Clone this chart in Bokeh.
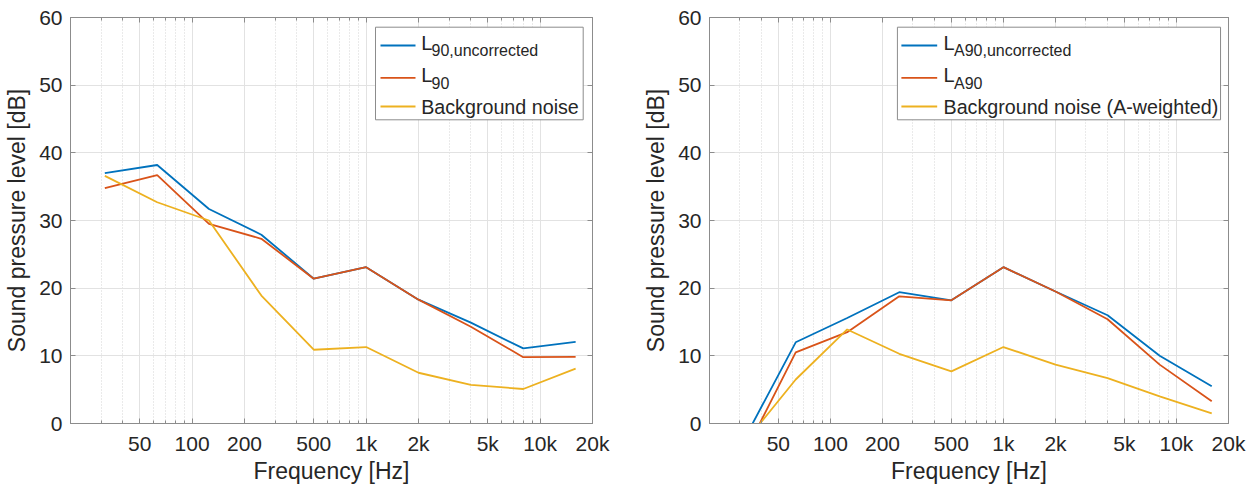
from bokeh.plotting import figure
from bokeh.models import (Range1d, FixedTicker, CustomJSTickFormatter, LogAxis,
                          LinearAxis, Label)
from bokeh.layouts import row
from bokeh.embed import file_html
from bokeh.resources import INLINE

# ---- data (octave bands) ----
freq = [31.5, 63, 125, 250, 500, 1000, 2000, 4000, 8000, 16000]

l90_uncorrected = [37.0, 38.2, 31.7, 27.9, 21.4, 23.1, 18.3, 14.9, 11.1, 12.05]
l90 = [34.8, 36.7, 29.5, 27.3, 21.4, 23.1, 18.3, 14.3, 9.8, 9.85]
background = [36.6, 32.7, 30.0, 18.9, 10.9, 11.3, 7.5, 5.7, 5.1, 8.1]

la90_uncorrected = [-2.5, 12.0, 15.6, 19.4, 18.2, 23.1, 19.5, 16.0, 10.0, 5.5]
la90 = [-4.7, 10.5, 13.5, 18.8, 18.2, 23.1, 19.5, 15.4, 8.7, 3.3]
background_a = [-3.0, 6.5, 13.9, 10.3, 7.7, 11.3, 8.7, 6.7, 4.0, 1.5]

x_major = [50, 100, 200, 500, 1000, 2000, 5000, 10000, 20000]
x_minor = [30, 40, 60, 70, 80, 90, 300, 400, 600, 700, 800, 900,
           3000, 4000, 6000, 7000, 8000, 9000]
y_major = [0, 10, 20, 30, 40, 50, 60]

colors = ["#0072BD", "#D95319", "#EDB120"]
FONT = "Liberation Sans"
TXT = "#262626"
AX = "#8c8c8c"
FRAME_W = 522
FRAME_H = 406
X_LO, X_HI = 20, 20000
Y_LO, Y_HI = 0, 60


def px_to_x(px):
    # horizontal pixel offset inside the frame -> log-axis coordinate
    return X_LO * (X_HI / X_LO) ** (px / FRAME_W)


def px_to_y(py):
    # vertical pixel offset (from frame bottom) -> y coordinate
    return Y_LO + (Y_HI - Y_LO) * py / FRAME_H


def style_axis(ax, labels=True):
    ax.axis_line_color = AX
    ax.major_tick_line_color = AX
    ax.minor_tick_line_color = AX
    ax.major_tick_in = 5
    ax.major_tick_out = 0
    ax.minor_tick_in = 3
    ax.minor_tick_out = 0
    ax.major_label_text_font = FONT
    ax.major_label_text_color = TXT
    ax.axis_label_text_font = FONT
    ax.axis_label_text_color = TXT
    ax.axis_label_text_font_style = "normal"
    if labels:
        ax.major_label_text_font_size = "21px"
        ax.axis_label_text_font_size = "23px"
    else:
        ax.major_label_text_font_size = "0px"
        ax.major_label_text_color = None
        ax.major_label_standoff = 0


def make_panel(series, names, width, bl, br, leg):
    xt = FixedTicker(ticks=x_major, minor_ticks=x_minor)
    yt = FixedTicker(ticks=y_major, minor_ticks=[])
    p = figure(width=width, height=486, x_axis_type="log",
               x_range=Range1d(X_LO, X_HI), y_range=Range1d(Y_LO, Y_HI),
               output_backend="svg", toolbar_location=None,
               min_border_left=bl, min_border_right=br,
               min_border_top=17, min_border_bottom=486 - 17 - FRAME_H)
    p.outline_line_color = AX
    p.background_fill_color = "white"
    p.border_fill_color = "white"

    xa = p.xaxis[0]
    xa.ticker = xt
    xa.formatter = CustomJSTickFormatter(
        code="return tick >= 1000 ? (tick/1000) + 'k' : String(tick);")
    style_axis(xa)
    xa.axis_label = "Frequency [Hz]"
    xa.major_label_standoff = 8
    xa.axis_label_standoff = 0

    ya = p.yaxis[0]
    ya.ticker = yt
    style_axis(ya)
    ya.axis_label = "Sound pressure level [dB]"
    ya.major_label_standoff = 8
    ya.axis_label_standoff = 6

    top = LogAxis(ticker=xt)
    style_axis(top, labels=False)
    p.add_layout(top, "above")
    right = LinearAxis(ticker=yt)
    style_axis(right, labels=False)
    p.add_layout(right, "right")

    p.xgrid.ticker = xt
    p.ygrid.ticker = yt
    p.xgrid.grid_line_color = "#e2e2e2"
    p.ygrid.grid_line_color = "#e2e2e2"
    p.xgrid.minor_grid_line_color = "#d4d4d4"
    p.xgrid.minor_grid_line_dash = "1 2"

    for vals, c in zip(series, colors):
        p.line(freq, vals, line_color=c, line_width=1.8)

    # ---- legend (frame-pixel geometry converted to axis coordinates) ----
    L, R, B, T, lx0, lx1, tx, sx = leg
    p.quad(left=[px_to_x(L)], right=[px_to_x(R)],
           bottom=[px_to_y(B)], top=[px_to_y(T)],
           fill_color="white", fill_alpha=1.0,
           line_color="#8c8c8c", line_width=1)
    ly = [378, 345.7, 317]
    for yy, c in zip(ly, colors):
        p.segment(x0=[px_to_x(lx0)], x1=[px_to_x(lx1)],
                  y0=[px_to_y(yy)], y1=[px_to_y(yy)],
                  line_color=c, line_width=1.8)
    main_base = [380.7, 348.3]
    for (big, sub), yb in zip(names[:2], main_base):
        p.add_layout(Label(x=tx, y=yb, x_units="screen", y_units="screen",
                           text=big, text_font=FONT, text_font_size="20px",
                           text_color=TXT, text_baseline="alphabetic"))
        p.add_layout(Label(x=sx, y=yb - 8, x_units="screen", y_units="screen",
                           text=sub, text_font=FONT, text_font_size="16px",
                           text_color=TXT, text_baseline="alphabetic"))
    p.add_layout(Label(x=tx, y=317.0, x_units="screen", y_units="screen",
                       text=names[2][0], text_font=FONT, text_font_size="19.7px",
                       text_color=TXT, text_baseline="alphabetic"))
    return p


p1 = make_panel([l90_uncorrected, l90, background],
                [("L", "90,uncorrected"), ("L", "90"), ("Background noise", "")],
                640, 70, 48,
                (305, 512.7, 303.7, 396.3, 310, 345, 350.7, 361))
p2 = make_panel([la90_uncorrected, la90, background_a],
                [("L", "A90,uncorrected"), ("L", "A90"),
                 ("Background noise (A-weighted)", "")],
                616, 66, 28,
                (189, 514, 303.7, 396.3, 193, 229, 234, 244.5))

layout = row(p1, p2)
open("out.html", "w").write(file_html(layout, INLINE))
